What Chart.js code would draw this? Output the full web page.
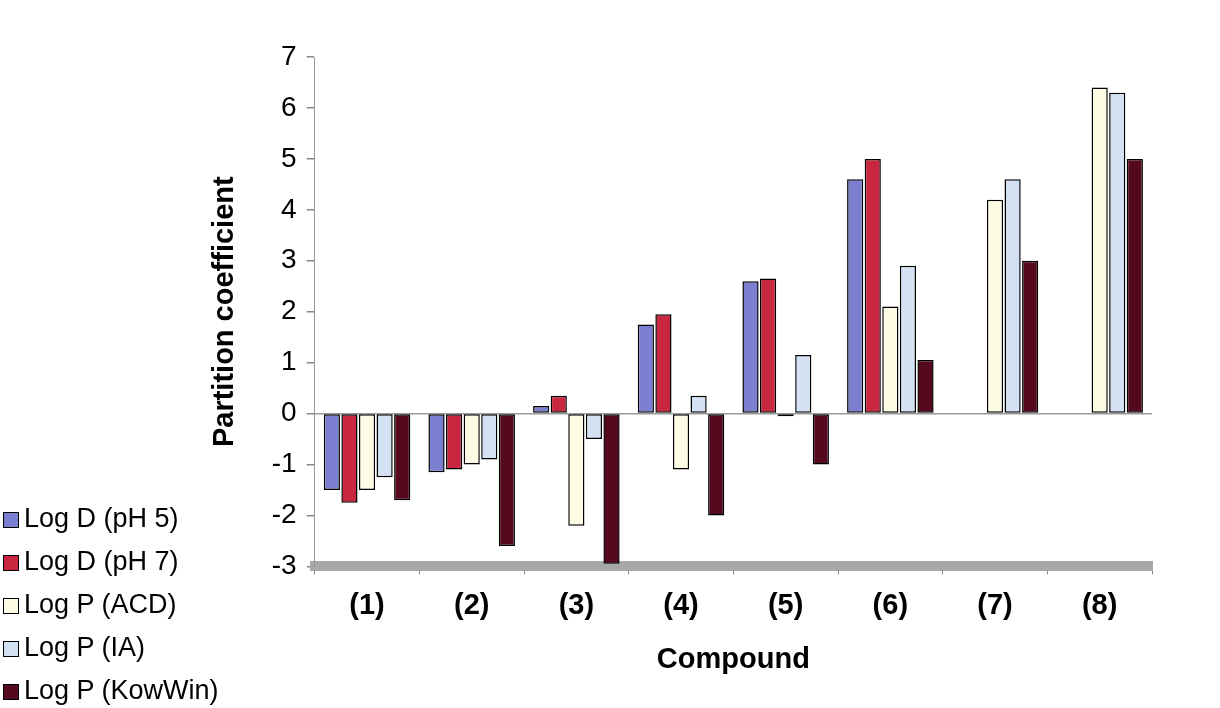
<!DOCTYPE html>
<html>
<head>
<meta charset="utf-8">
<script src="https://cdn.jsdelivr.net/npm/chart.js@4/dist/chart.umd.min.js"></script>
<style>
  html, body { margin: 0; padding: 0; background: #fff; }
  #wrap { width: 1220px; height: 708px; position: relative; }
  #legend {
    position: absolute; left: 3px; top: 497px; margin: 0; padding: 0;
    list-style: none; font-family: 'Liberation Sans', Arial, sans-serif;
    font-size: 27px; color: #000;
  }
  #legend li { height: 43px; line-height: 43px; white-space: nowrap; }
  #legend span {
    display: inline-block; width: 14px; height: 14px; margin-right: 5px;
    border: 1px solid #000; vertical-align: -1px;
  }
</style>
</head>
<body>
<div id="wrap">
  <canvas id="logp-chart" width="1220" height="708"></canvas>
  <ul id="legend"></ul>
</div>
<script>
// Partition coefficients per compound
const compounds = ["(1)", "(2)", "(3)", "(4)", "(5)", "(6)", "(7)", "(8)"];
const logDpH5 = [-1.5, -1.15, 0.15, 1.75, 2.6, 4.6, 0, 0];
const logDpH7 = [-1.75, -1.1, 0.35, 1.95, 2.65, 5.0, 0, 0];
const logPACD = [-1.5, -1.0, -2.2, -1.1, -0.05, 2.1, 4.2, 6.4];
const logPIA = [-1.25, -0.9, -0.5, 0.35, 1.15, 2.9, 4.6, 6.3];
const logPKowWin = [-1.7, -2.6, -2.95, -2.0, -1.0, 1.05, 3.0, 5.0];
const yTicks = [-3, -2, -1, 0, 1, 2, 3, 4, 5, 6, 7];

const font = "'Liberation Sans', Arial, sans-serif";

function series(label, data, color) {
  return {
    label: label,
    data: data,
    backgroundColor: color,
    borderColor: "#000",
    borderWidth: 1.5,
    borderSkipped: false,
    barPercentage: 0.92,
    categoryPercentage: 0.84,
  };
}

const ctx = document.getElementById("logp-chart").getContext("2d");
const chart = new Chart(ctx, {
  type: "bar",
  data: {
    labels: compounds,
    datasets: [
      series("Log D (pH 5)", logDpH5, "#7b7fcf"),
      series("Log D (pH 7)", logDpH7, "#c8273f"),
      series("Log P (ACD)", logPACD, "#fdfbe3"),
      series("Log P (IA)", logPIA, "#d3e2f2"),
      series("Log P (KowWin)", logPKowWin, "#55091c"),
    ],
  },
  options: {
    responsive: false,
    animation: false,
    layout: { padding: { top: 57, right: 68, bottom: 2, left: 200 } },
    plugins: {
      tooltip: { enabled: false },
      legend: { display: false },
    },
    scales: {
      x: {
        grid: {
          drawOnChartArea: false,
          tickLength: 8,
          tickColor: "#888",
        },
        border: { color: "#a8a8a8", width: 10 },
        ticks: {
          color: "#000",
          padding: 14,
          font: { family: font, size: 29, weight: "bold" },
        },
        title: {
          display: true,
          text: "Compound",
          color: "#000",
          font: { family: font, size: 29, weight: "bold" },
          padding: { top: 5, bottom: 29 },
        },
      },
      y: {
        min: -3,
        max: 7,
        afterBuildTicks: (scale) => {
          scale.ticks = yTicks.map((v) => ({ value: v }));
        },
        grid: {
          color: (c) => (c.tick && c.tick.value === 0 ? "#9a9a9a" : "transparent"),
          lineWidth: 1.5,
          tickColor: "#888",
          tickLength: 8,
        },
        border: { color: "#999", width: 1 },
        ticks: {
          color: "#000",
          padding: 10,
          font: { family: font, size: 28 },
        },
        title: {
          display: true,
          text: "Partition coefficient",
          color: "#000",
          font: { family: font, size: 29, weight: "bold" },
          padding: { top: 8, bottom: 19 },
        },
      },
    },
  },
});

// HTML legend built from the chart's datasets
const legendEl = document.getElementById("legend");
chart.data.datasets.forEach((ds) => {
  const li = document.createElement("li");
  const box = document.createElement("span");
  box.style.background = ds.backgroundColor;
  li.appendChild(box);
  li.appendChild(document.createTextNode(ds.label));
  legendEl.appendChild(li);
});
</script>
</body>
</html>
